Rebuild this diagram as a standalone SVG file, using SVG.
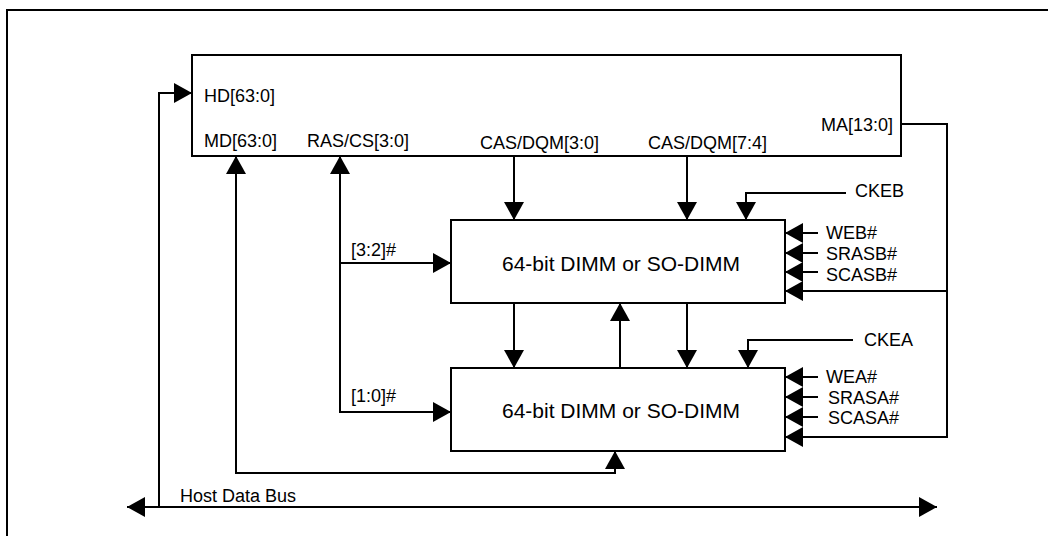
<svg xmlns="http://www.w3.org/2000/svg" width="1048" height="536" viewBox="0 0 1048 536">
<defs>
<style>
.box{fill:#fff;stroke:#000;stroke-width:2}
.ln{fill:none;stroke:#000;stroke-width:2}
.ar{marker-end:url(#ah)}
.ar2{marker-start:url(#ah);marker-end:url(#ah)}
text{font-family:"Liberation Sans",Arial,sans-serif;font-size:18px;fill:#000}
.big{font-size:21px}
</style>
<marker id="ah" viewBox="0 0 18 20" markerWidth="18" markerHeight="20" refX="18" refY="10" orient="auto-start-reverse" markerUnits="userSpaceOnUse">
<path d="M0,0 L18,10 L0,20 Z" fill="#000"/>
</marker>
</defs>
<rect width="1048" height="536" fill="#fff"/>
<path class="ln" d="M7,536 V10 H1048"/>

<g id="controller">
<rect class="box" x="192" y="55" width="709" height="101"/>
<text x="204" y="102">HD[63:0]</text>
<text x="204" y="147">MD[63:0]</text>
<text x="307" y="147">RAS/CS[3:0]</text>
<text x="480" y="149">CAS/DQM[3:0]</text>
<text x="648" y="149">CAS/DQM[7:4]</text>
<text x="821" y="131">MA[13:0]</text>
</g>

<g id="dimm-upper">
<rect class="box" x="451" y="220" width="334" height="83"/>
<text class="big" x="502" y="271">64-bit DIMM or SO-DIMM</text>
</g>

<g id="dimm-lower">
<rect class="box" x="451" y="368" width="334" height="83"/>
<text class="big" x="502" y="418">64-bit DIMM or SO-DIMM</text>
</g>

<g id="connectors">
<path class="ln ar" d="M159,507 V93 H192"/>
<path class="ln ar2" d="M127,507 H937"/>
<path class="ln ar2" d="M236,156 V473 H615 V451"/>
<path class="ln ar2" d="M340,156 V412 H451"/>
<path class="ln ar" d="M340,263 H451"/>
<path class="ln ar" d="M514,156 V220"/>
<path class="ln ar" d="M687,156 V220"/>
<path class="ln ar" d="M514,303 V368"/>
<path class="ln ar" d="M687,303 V368"/>
<path class="ln ar" d="M620,368 V303"/>
<path class="ln ar" d="M846,193 H746 V220"/>
<path class="ln ar" d="M853,340 H748 V368"/>
<path class="ln ar" d="M901,124 H947 V437 H785"/>
<path class="ln ar" d="M947,291 H785"/>
<path class="ln ar" d="M818,233 H785"/>
<path class="ln ar" d="M818,253 H785"/>
<path class="ln ar" d="M818,272 H785"/>
<path class="ln ar" d="M818,377 H785"/>
<path class="ln ar" d="M818,397 H785"/>
<path class="ln ar" d="M818,417 H785"/>
</g>

<g id="labels">
<text x="855" y="197">CKEB</text>
<text x="826" y="239">WEB#</text>
<text x="826" y="260">SRASB#</text>
<text x="826" y="281">SCASB#</text>
<text x="864" y="346">CKEA</text>
<text x="826" y="383">WEA#</text>
<text x="828" y="404">SRASA#</text>
<text x="828" y="424">SCASA#</text>
<text x="351" y="256">[3:2]#</text>
<text x="351" y="402">[1:0]#</text>
<text x="180" y="502">Host Data Bus</text>
</g>
</svg>
